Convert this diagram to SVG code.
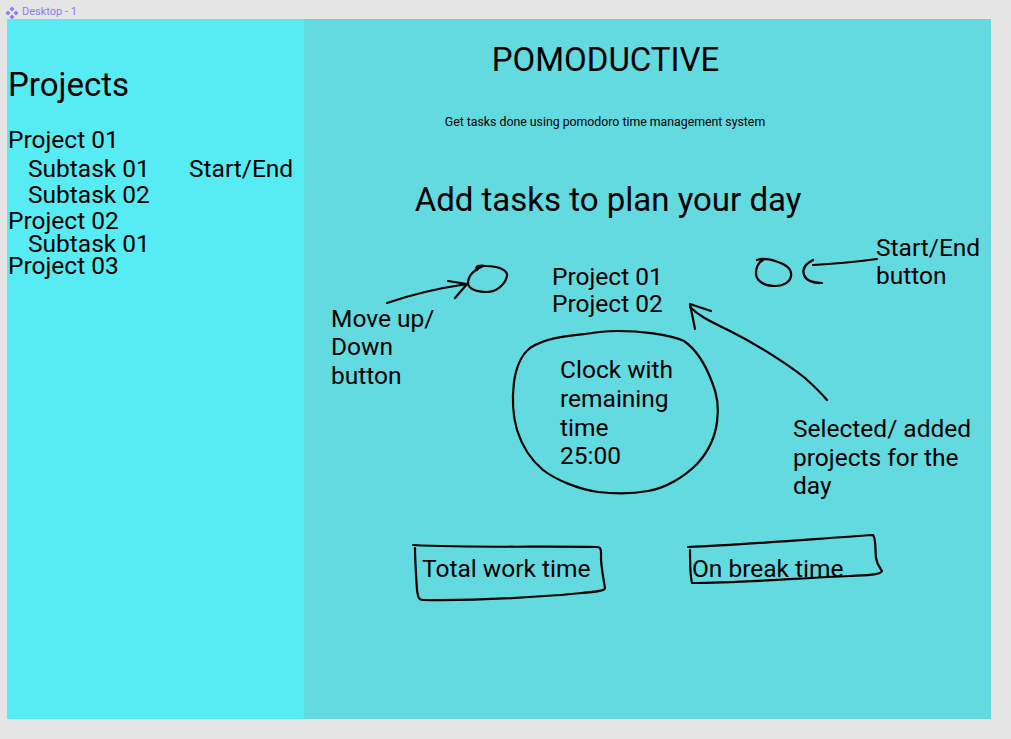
<svg xmlns="http://www.w3.org/2000/svg" width="1011" height="739" viewBox="0 0 1011 739">
  <style>
    text { font-family: Roboto, "Liberation Sans", sans-serif; fill: #000; }
    .t24 { font-size: 24.5px; }
    .t32 { font-size: 33px; }
    .sm { font-size: 12.3px; }
    .ink { fill: none; stroke: #000; stroke-width: 2.2; stroke-linecap: round; stroke-linejoin: round; }
  </style>

  <!-- canvas -->
  <rect x="0" y="0" width="1011" height="739" fill="#e5e5e5"/>
  <g id="frame-label" fill="#8c7cf4">
    <path d="M12 6.5 l2.5 2.5 l-2.5 2.5 l-2.5 -2.5 z M8 10.5 l2.5 2.5 l-2.5 2.5 l-2.5 -2.5 z M16 10.5 l2.5 2.5 l-2.5 2.5 l-2.5 -2.5 z M12 14.5 l2.5 2.5 l-2.5 2.5 l-2.5 -2.5 z"/>
    <text x="22" y="15" style="font-size:11px; fill:#8c7cf4;">Desktop - 1</text>
  </g>

  <!-- frame -->
  <rect x="7" y="19" width="984" height="700" fill="#63d9e0"/>
  <rect id="sidebar" x="7" y="19" width="297" height="700" fill="#57ecf4"/>

  <!-- sidebar texts -->
  <g id="sidebar-list">
    <text x="8" y="96" style="font-size:33px;">Projects</text>
    <text x="8" y="148" class="t24">Project 01</text>
    <text x="28" y="177" class="t24">Subtask 01</text>
    <text x="189" y="177" class="t24">Start/End</text>
    <text x="28" y="203" class="t24">Subtask 02</text>
    <text x="8" y="229" class="t24">Project 02</text>
    <text x="28" y="252" class="t24">Subtask 01</text>
    <text x="8" y="274" class="t24">Project 03</text>
  </g>

  <!-- header -->
  <g id="header">
    <text x="605.5" y="71" class="t32" text-anchor="middle">POMODUCTIVE</text>
    <text x="605" y="126" class="sm" text-anchor="middle">Get tasks done using pomodoro time management system</text>
    <text x="608" y="211" class="t32" text-anchor="middle">Add tasks to plan your day</text>
  </g>

  <g id="project-list">
    <text x="552" y="285" class="t24">Project 01</text>
    <text x="552" y="312" class="t24">Project 02</text>
  </g>

  <g id="move-button">
    <path class="ink" d="M477 270 C474 266 480 265 486 266 C498 266 508 270 507 276 C505 285 496 292 487 292 C477 292 468 289 468 283 C468 276 474 270 483 266"/>
    <text x="331" y="327" class="t24">Move up/</text>
    <text x="331" y="355" class="t24">Down</text>
    <text x="331" y="384" class="t24">button</text>
  </g>

  <g id="start-end-button">
    <path class="ink" d="M757 260 C762 258 770 259 778 262 C787 265 792 270 791 276 C790 283 782 286 775 286 C764 286 756 281 756 273 C756 266 760 261 765 259"/>
    <text x="876" y="256" class="t24">Start/End</text>
    <text x="876" y="284" class="t24">button</text>
  </g>

  <g id="clock">
    <path class="ink" d="M617 331 C640 331 668 334 684 341 C697 350 706 366 712 382 C718 396 719 408 717 422 C715 438 708 452 697 464 C684 477 666 488 648 491 C632 494 616 494 598 492 C578 489 556 480 543 470 C531 460 522 446 517 430 C513 416 512 398 514 382 C516 368 520 356 530 348 C545 338 566 336 585 334 C597 332 608 331 617 331 Z"/>
    <text x="560" y="378" class="t24">Clock with</text>
    <text x="560" y="407" class="t24">remaining</text>
    <text x="560" y="436" class="t24">time</text>
    <text x="560" y="464" class="t24">25:00</text>
  </g>

  <g id="selected-note">
    <text x="793" y="437" class="t24">Selected/ added</text>
    <text x="793" y="466" class="t24">projects for the</text>
    <text x="793" y="494" class="t24">day</text>
  </g>

  <g id="total-work">
    <path class="ink" d="M413 545 C470 548 540 546 597 547 C602 547 601 552 601 560 C602 572 604 582 605 588 C605 592 590 592 560 595 C520 598 470 601 423 600 C418 600 418 596 417 590 C416 575 415 560 415 548"/>
    <text x="422" y="577" class="t24">Total work time</text>
  </g>

  <g id="break-time">
    <path class="ink" d="M688 547 C740 545 800 540 873 535 C876 538 875 548 876 558 C877 565 880 568 882 571 C880 575 870 575 850 576 C800 578 740 583 692 583 C690 575 690 560 690 550"/>
    <text x="692" y="577" class="t24">On break time</text>
  </g>

  <!-- connectors -->
  <g id="connectors">
    <path class="ink" d="M387 303 C410 295 440 288 467 284"/>
    <path class="ink" d="M448 281 L467 284 L455 298"/>
    <path class="ink" d="M877 259 C855 262 835 264 813 265"/>
    <path class="ink" d="M813 260 C805 264 802 269 804 275 C806 280 813 283 822 283"/>
    <path class="ink" d="M690 307 C700 317 712 322 730 331 C760 346 790 366 805 378 C815 387 822 394 827 400"/>
    <path class="ink" d="M711 311 L690 304 L695 329"/>
  </g>
</svg>
